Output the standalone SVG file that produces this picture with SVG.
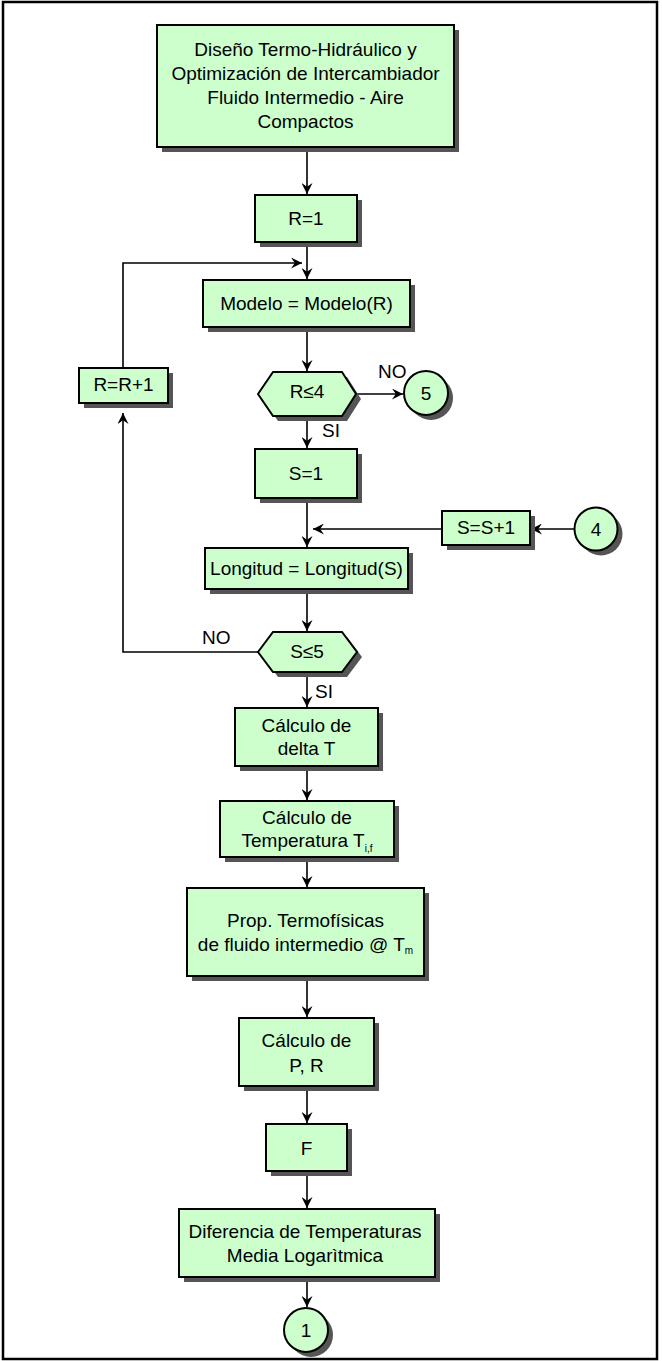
<svg xmlns="http://www.w3.org/2000/svg" width="662" height="1361" viewBox="0 0 662 1361">
<style>
.b{fill:#CCFFCC;stroke:#000;stroke-width:2}
.sh{fill:#555;stroke:none}
.t{font-family:"Liberation Sans",Arial,sans-serif;font-size:19px;fill:#000;text-anchor:middle}
.l{font-family:"Liberation Sans",Arial,sans-serif;font-size:19px;fill:#000}
.c{fill:none;stroke:#000;stroke-width:1.6}
.sub{font-size:10px}
</style>
<defs>
<marker id="a" viewBox="0 0 10 10" markerWidth="11" markerHeight="11" refX="10" refY="5" orient="auto" markerUnits="userSpaceOnUse">
<path d="M0,0 L10,5 L0,10 L3.5,5 z" fill="#000"/>
</marker>
</defs>
<rect x="0" y="0" width="662" height="1361" fill="#fff"/>
<rect x="3" y="2" width="654" height="1357" fill="none" stroke="#000" stroke-width="2.5"/>

<g id="connectors">
<line class="c" x1="307" y1="147" x2="307" y2="194" marker-end="url(#a)"/>
<line class="c" x1="307" y1="242" x2="307" y2="279" marker-end="url(#a)"/>
<line class="c" x1="307" y1="327" x2="307" y2="371" marker-end="url(#a)"/>
<polyline class="c" points="123,368 123,263 302,263" marker-end="url(#a)"/>
<line class="c" x1="356" y1="394" x2="403" y2="394" marker-end="url(#a)"/>
<line class="c" x1="307" y1="416" x2="307" y2="448" marker-end="url(#a)"/>
<line class="c" x1="307" y1="498" x2="307" y2="547" marker-end="url(#a)"/>
<line class="c" x1="442" y1="529" x2="313" y2="529" marker-end="url(#a)"/>
<line class="c" x1="575" y1="529" x2="531" y2="529" marker-end="url(#a)"/>
<line class="c" x1="307" y1="589" x2="307" y2="631" marker-end="url(#a)"/>
<polyline class="c" points="258,652 123,652 123,413" marker-end="url(#a)"/>
<line class="c" x1="307" y1="672" x2="307" y2="707" marker-end="url(#a)"/>
<line class="c" x1="307" y1="766" x2="307" y2="800" marker-end="url(#a)"/>
<line class="c" x1="307" y1="857" x2="307" y2="887" marker-end="url(#a)"/>
<line class="c" x1="307" y1="976" x2="307" y2="1017" marker-end="url(#a)"/>
<line class="c" x1="307" y1="1086" x2="307" y2="1123" marker-end="url(#a)"/>
<line class="c" x1="307" y1="1171" x2="307" y2="1208" marker-end="url(#a)"/>
<line class="c" x1="307" y1="1277" x2="307" y2="1307" marker-end="url(#a)"/>
<text class="l" x="378" y="378">NO</text>
<text class="l" x="322" y="437">SI</text>
<text class="l" x="202" y="644">NO</text>
<text class="l" x="315" y="698">SI</text>
</g>

<g id="title">
<rect class="sh" x="162" y="30" width="297" height="122"/>
<rect class="b" x="157" y="25" width="297" height="122"/>
<text class="t" x="305.5" y="56">Diseño Termo-Hidráulico y</text>
<text class="t" x="305.5" y="80">Optimización de Intercambiador</text>
<text class="t" x="305.5" y="104">Fluido Intermedio - Aire</text>
<text class="t" x="305.5" y="128">Compactos</text>
</g>

<g id="r1">
<rect class="sh" x="260" y="200" width="102" height="47"/>
<rect class="b" x="255" y="195" width="102" height="47"/>
<text class="t" x="306" y="225">R=1</text>
</g>

<g id="modelo">
<rect class="sh" x="208" y="285" width="207" height="47"/>
<rect class="b" x="203" y="280" width="207" height="47"/>
<text class="t" x="306.5" y="310">Modelo = Modelo(R)</text>
</g>

<g id="rr1">
<rect class="sh" x="84" y="373" width="89" height="35"/>
<rect class="b" x="79" y="368" width="89" height="35"/>
<text class="t" x="123.5" y="391">R=R+1</text>
</g>

<g id="dec-r">
<polygon class="sh" points="263,399 278,377 347,377 361,399 347,421 278,421"/>
<polygon class="b" points="258,394 273,372 342,372 356,394 342,416 273,416"/>
<text class="t" x="307" y="398">R≤4</text>
</g>

<g id="c5">
<circle class="sh" cx="431" cy="398" r="22"/>
<circle class="b" cx="426" cy="393" r="22"/>
<text class="t" x="426" y="400">5</text>
</g>

<g id="s1">
<rect class="sh" x="260" y="454" width="102" height="49"/>
<rect class="b" x="255" y="449" width="102" height="49"/>
<text class="t" x="306" y="480">S=1</text>
</g>

<g id="ss1">
<rect class="sh" x="447" y="516" width="88" height="34"/>
<rect class="b" x="442" y="511" width="88" height="34"/>
<text class="t" x="486" y="534">S=S+1</text>
</g>

<g id="c4">
<circle class="sh" cx="601" cy="534" r="21.5"/>
<circle class="b" cx="596" cy="529" r="21.5"/>
<text class="t" x="596" y="536">4</text>
</g>

<g id="longitud">
<rect class="sh" x="210" y="553" width="203" height="41"/>
<rect class="b" x="205" y="548" width="203" height="41"/>
<text class="t" x="306.5" y="575">Longitud = Longitud(S)</text>
</g>

<g id="dec-s">
<polygon class="sh" points="263,657 278,637 347,637 362,657 347,677 278,677"/>
<polygon class="b" points="258,652 273,632 342,632 357,652 342,672 273,672"/>
<text class="t" x="307" y="658">S≤5</text>
</g>

<g id="delta">
<rect class="sh" x="240" y="713" width="143" height="58"/>
<rect class="b" x="235" y="708" width="143" height="58"/>
<text class="t" x="306.5" y="732">Cálculo de</text>
<text class="t" x="306.5" y="755">delta T</text>
</g>

<g id="temp">
<rect class="sh" x="225" y="806" width="174" height="56"/>
<rect class="b" x="220" y="801" width="174" height="56"/>
<text class="t" x="307" y="824">Cálculo de</text>
<text class="t" x="307" y="847">Temperatura T<tspan class="sub" dy="5">i,f</tspan></text>
</g>

<g id="prop">
<rect class="sh" x="192" y="893" width="237" height="88"/>
<rect class="b" x="187" y="888" width="237" height="88"/>
<text class="t" x="305.5" y="927">Prop. Termofísicas</text>
<text class="t" x="305.5" y="951">de fluido intermedio @ T<tspan class="sub" dy="3">m</tspan></text>
</g>

<g id="pr">
<rect class="sh" x="244" y="1023" width="135" height="68"/>
<rect class="b" x="239" y="1018" width="135" height="68"/>
<text class="t" x="306.5" y="1047">Cálculo de</text>
<text class="t" x="306.5" y="1072">P, R</text>
</g>

<g id="f">
<rect class="sh" x="271" y="1129" width="81" height="47"/>
<rect class="b" x="266" y="1124" width="81" height="47"/>
<text class="t" x="306.5" y="1155">F</text>
</g>

<g id="dif">
<rect class="sh" x="184" y="1214" width="256" height="68"/>
<rect class="b" x="179" y="1209" width="256" height="68"/>
<text class="t" x="305" y="1238">Diferencia de Temperaturas</text>
<text class="t" x="305" y="1262">Media Logarìtmica</text>
</g>

<g id="c1">
<circle class="sh" cx="311" cy="1335" r="22"/>
<circle class="b" cx="306" cy="1330" r="22"/>
<text class="t" x="306" y="1337">1</text>
</g>
</svg>
